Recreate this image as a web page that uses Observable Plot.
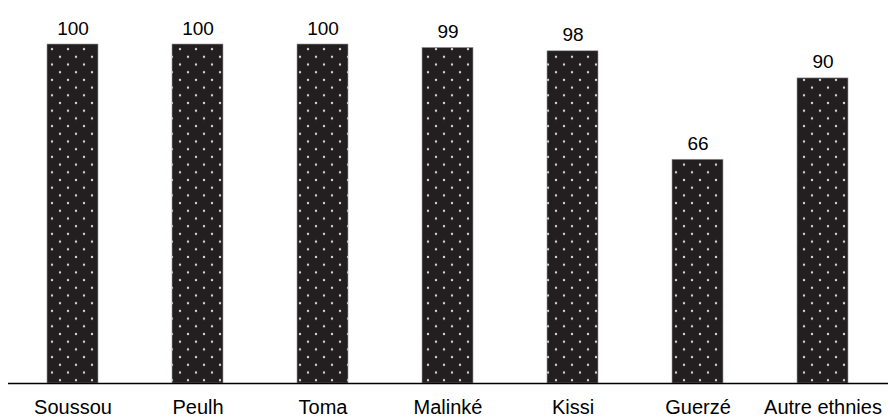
<!DOCTYPE html>
<html>
<head>
<meta charset="utf-8">
<script src="https://cdn.jsdelivr.net/npm/d3@7"></script>
<script src="https://cdn.jsdelivr.net/npm/@observablehq/plot@0.6"></script>
<style>
  html, body { margin: 0; padding: 0; background: #fff; }
  #chart svg { display: block; }
</style>
</head>
<body>
<div id="chart"></div>
<script>
const categories = ["Soussou", "Peulh", "Toma", "Malinké", "Kissi", "Guerzé", "Autre ethnies"];
const values = [100, 100, 100, 99, 98, 66, 90];

const data = categories.map((c, i) => ({ category: c, value: values[i] }));

const chart = Plot.plot({
  width: 890,
  height: 417,
  marginTop: 44,
  marginBottom: 34,
  marginLeft: 8,
  marginRight: 2,
  style: { fontFamily: "Liberation Sans, Arial, sans-serif", color: "#000", background: "#fff" },
  x: { domain: categories, paddingInner: 0.59, paddingOuter: 0.295, label: null },
  y: { domain: [0, 100], axis: null },
  marks: [
    Plot.barY(data, { x: "category", y: "value", fill: "url(#dots)", stroke: "#9a9a9a", strokeWidth: 0.6 }),
    Plot.text(data, { x: "category", y: "value", text: d => String(d.value), dy: -16, fontSize: 19, fill: "#000" }),
    Plot.ruleY([0], { stroke: "#000", strokeWidth: 1.3 }),
    Plot.axisX({ tickSize: 0, tickPadding: 16, fontSize: 20, label: null, fill: "#000" })
  ]
});

const ns = "http://www.w3.org/2000/svg";
const defs = document.createElementNS(ns, "defs");
const pat = document.createElementNS(ns, "pattern");
pat.setAttribute("id", "dots");
pat.setAttribute("patternUnits", "userSpaceOnUse");
pat.setAttribute("width", "16");
pat.setAttribute("height", "15.4");
const bg = document.createElementNS(ns, "rect");
bg.setAttribute("width", "16");
bg.setAttribute("height", "15.4");
bg.setAttribute("fill", "#231f20");
pat.appendChild(bg);
for (const [cx, cy] of [[4, 3], [12, 10.7]]) {
  const c = document.createElementNS(ns, "circle");
  c.setAttribute("cx", cx);
  c.setAttribute("cy", cy);
  c.setAttribute("r", "1.2");
  c.setAttribute("fill", "#d8d8d8");
  pat.appendChild(c);
}
defs.appendChild(pat);
chart.insertBefore(defs, chart.firstChild);
document.getElementById("chart").appendChild(chart);
</script>
</body>
</html>
